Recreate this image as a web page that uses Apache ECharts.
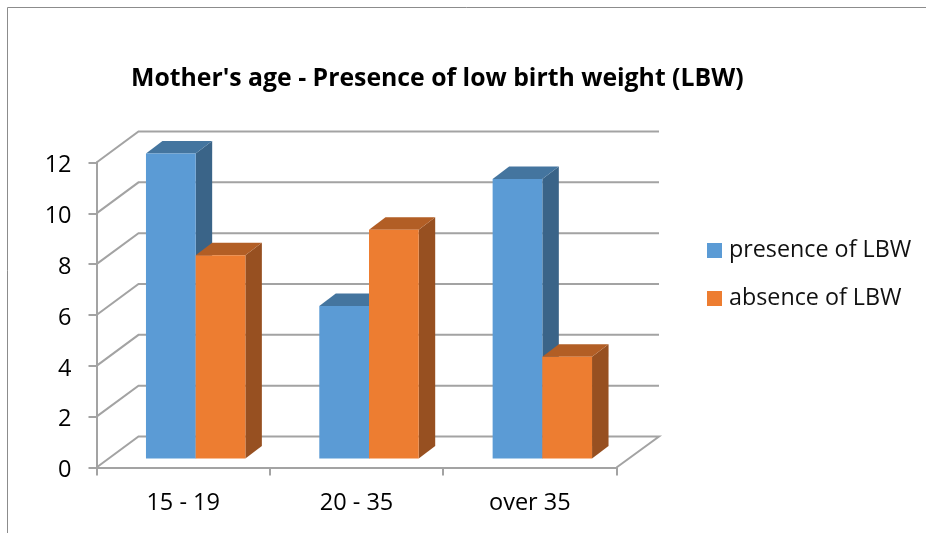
<!DOCTYPE html>
<html><head><meta charset="utf-8">
<style>html,body{margin:0;padding:0;background:#fff}#c{width:926px;height:533px}</style>
<script src="https://cdn.jsdelivr.net/npm/echarts@6/dist/echarts.min.js"></script>
</head><body><div id="c"></div>
<script>
const titleText = "Mother's age - Presence of low birth weight (LBW)";
const categories = ['15 - 19', '20 - 35', 'over 35'];
const presence = [12, 6, 11];
const absence = [8, 9, 4];
const yTicks = [0, 2, 4, 6, 8, 10, 12];
const FONT = 'Open Sans';
const AXIS = '#a3a3a3';
const LW = 2;
const chart = echarts.init(document.getElementById('c'));

function wall(params, api) {
  const cs = params.coordSys;
  const p = api.coord([0, api.value(0)]);
  const x = cs.x, y = p[1], dx = 42, dy = -31, r = cs.x + cs.width;
  const pts = [[x, y], [x + dx, y + dy], [r + dx + 0.5, y + dy]];
  if (api.value(0) === 0) pts.push([r, y]);
  return { type: 'polyline', shape: { points: pts }, style: { fill: null, stroke: AXIS, lineWidth: LW } };
}
function bar3d(idx, front, top, side) {
  return function (params, api) {
    const p = api.coord([api.value(0), api.value(1)]);
    const b = api.coord([api.value(0), 0]);
    const w = 49.7, ox = 12.5, oy = -9, dx = 16.5, dy = -12.5;
    const l = p[0] + ox - w + idx * w, r = l + w, t = p[1] + oy, bt = b[1] + oy;
    return { type: 'group', children: [
      { type: 'polygon', shape: { points: [[r, t], [r + dx, t + dy], [r + dx, bt + dy], [r, bt]] }, style: { fill: side } },
      { type: 'polygon', shape: { points: [[l, t], [l + dx, t + dy], [r + dx, t + dy], [r, t]] }, style: { fill: top } },
      { type: 'rect', shape: { x: l, y: t, width: w, height: bt - t }, style: { fill: front } }
    ] };
  };
}
function barSeries(name, values, idx, front, top, side) {
  return { type: 'custom', name, clip: false, z: 3 + idx, silent: true,
    itemStyle: { color: front },
    encode: { x: 0, y: 1 },
    data: values.map((v, i) => [i, v]),
    renderItem: bar3d(idx, front, top, side) };
}
chart.setOption({
  animation: false,
  backgroundColor: '#fff',
  textStyle: { fontFamily: FONT },
  title: { text: titleText, left: 126, top: 61, itemGap: 0,
    textStyle: { fontFamily: FONT, fontSize: 24.8, fontWeight: 'bold', color: '#000' } },
  legend: { data: ['presence of LBW', 'absence of LBW'], orient: 'vertical', left: 702, top: 229,
    icon: 'rect', itemWidth: 15, itemHeight: 15, itemGap: 15,
    textStyle: { fontFamily: FONT, fontSize: 23.3, color: '#111', lineHeight: 33, padding: [0, 0, 0, 2] } },
  grid: { left: 96.5, right: 309.5, top: 162.5, bottom: 65.5 },
  xAxis: { type: 'category', data: categories, boundaryGap: true,
    axisLine: { lineStyle: { color: AXIS, width: LW } },
    axisTick: { show: true, length: 8, alignWithLabel: false, lineStyle: { color: AXIS, width: LW } },
    axisLabel: { color: '#000', fontFamily: FONT, fontSize: 23.5, margin: 24 } },
  yAxis: { type: 'value', min: 0, max: 12, interval: 2,
    axisLine: { show: true, lineStyle: { color: AXIS, width: LW } },
    axisTick: { show: true, length: 8, lineStyle: { color: AXIS, width: LW } },
    splitLine: { show: false },
    axisLabel: { formatter: '{n|{value}}', margin: 25,
      rich: { n: { color: '#000', fontFamily: FONT, fontSize: 23.5, padding: [6, 0, 0, 0] } } } },
  graphic: [
    { type: 'polyline', shape: { points: [[7.5, 533], [7.5, 7.5], [926, 7.5]] }, style: { fill: null, stroke: '#8c8c8c', lineWidth: 1 } }
  ],
  series: [
    { type: 'custom', name: 'walls', clip: false, z: 1, silent: true,
      encode: { y: 0 }, data: yTicks.map(v => [v]), renderItem: wall },
    barSeries('presence of LBW', presence, 0, '#5B9BD5', '#44759F', '#3A6488'),
    barSeries('absence of LBW', absence, 1, '#ED7D31', '#B25E25', '#975021')
  ]
});
</script></body></html>
